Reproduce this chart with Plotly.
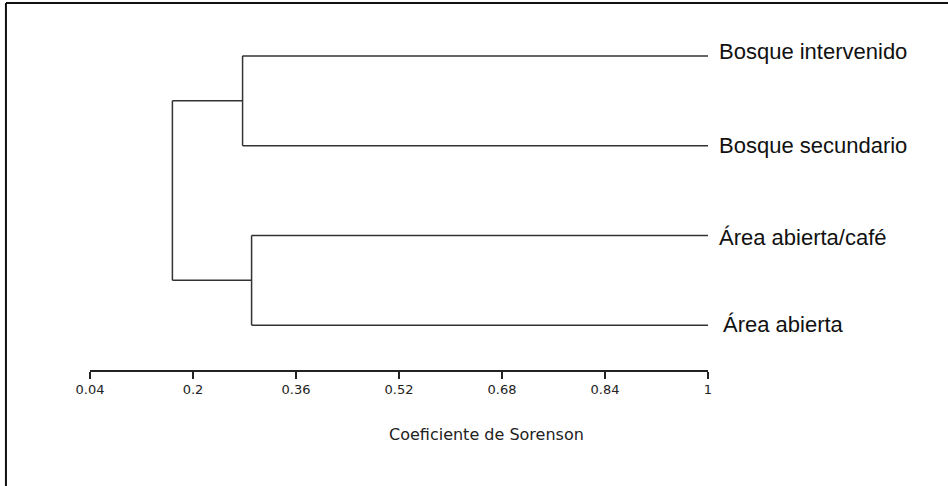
import plotly.graph_objects as go

# ---- data ----
leaves = ["Bosque intervenido", "Bosque secundario", "Área abierta/café", "Área abierta"]
leaf_pos = [4, 3, 2, 1]
# merges: (child_a, child_b, similarity); ids >= 4 refer to earlier merges
merges = [(0, 1, 0.277), (2, 3, 0.291), (4, 5, 0.168)]
leaf_value = 1.0
tick_vals = [0.04, 0.2, 0.36, 0.52, 0.68, 0.84, 1]
tick_text = ["0.04", "0.2", "0.36", "0.52", "0.68", "0.84", "1"]
axis_title = "Coeficiente de Sorenson"

# ---- build dendrogram segments from the linkage ----
node_x = {i: leaf_value for i in range(len(leaves))}
node_y = {i: leaf_pos[i] for i in range(len(leaves))}
xs, ys = [], []
for k, (a, b, h) in enumerate(merges):
    nid = len(leaves) + k
    for c in (a, b):
        xs += [node_x[c], h, None]
        ys += [node_y[c], node_y[c], None]
    xs += [h, h, None]
    ys += [node_y[a], node_y[b], None]
    node_x[nid] = h
    node_y[nid] = (node_y[a] + node_y[b]) / 2

fig = go.Figure()
fig.add_trace(go.Scatter(x=xs, y=ys, mode="lines",
                         line=dict(color="#333333", width=1.5),
                         cliponaxis=False, hoverinfo="skip", showlegend=False))

label_xshift = [9, 9, 9, 13]
label_yshift = [4, 0, -2, 1]
for i, name in enumerate(leaves):
    fig.add_annotation(x=leaf_value, y=leaf_pos[i], text=name, showarrow=False,
                       xanchor="left", yanchor="middle",
                       xshift=label_xshift[i], yshift=label_yshift[i],
                       font=dict(family="Liberation Sans, Arial", size=22, color="#111111"))

fig.add_annotation(xref="paper", yref="paper", x=0.641, y=-0.181, text=axis_title,
                   showarrow=False, xanchor="center", yanchor="middle",
                   font=dict(family="DejaVu Sans", size=16, color="#222222"))

# frame (top and left border)
fig.add_shape(type="line", xref="paper", yref="paper", x0=-0.136, x1=1.6, y0=1.0223, y1=1.0223,
              line=dict(color="#111111", width=2))
fig.add_shape(type="line", xref="paper", yref="paper", x0=-0.136, x1=-0.136, y0=1.0223, y1=-0.5,
              line=dict(color="#111111", width=2))

fig.update_layout(
    width=948, height=486,
    margin=dict(l=90, r=240, t=11, b=116),
    paper_bgcolor="white", plot_bgcolor="white",
    xaxis=dict(range=[0.04, 1], tickvals=tick_vals, ticktext=tick_text,
               showline=True, linecolor="#222222", linewidth=1.5,
               ticks="outside", ticklen=7, tickwidth=1.5, tickcolor="#222222",
               showgrid=False, zeroline=False,
               tickfont=dict(family="DejaVu Sans", size=13, color="#222222")),
    yaxis=dict(range=[0.5, 4.5], visible=False, showgrid=False, zeroline=False),
)

fig.write_html("out.html", config={"displayModeBar": False},
               post_script="document.body.style.margin='0';document.body.style.overflow='hidden';")
